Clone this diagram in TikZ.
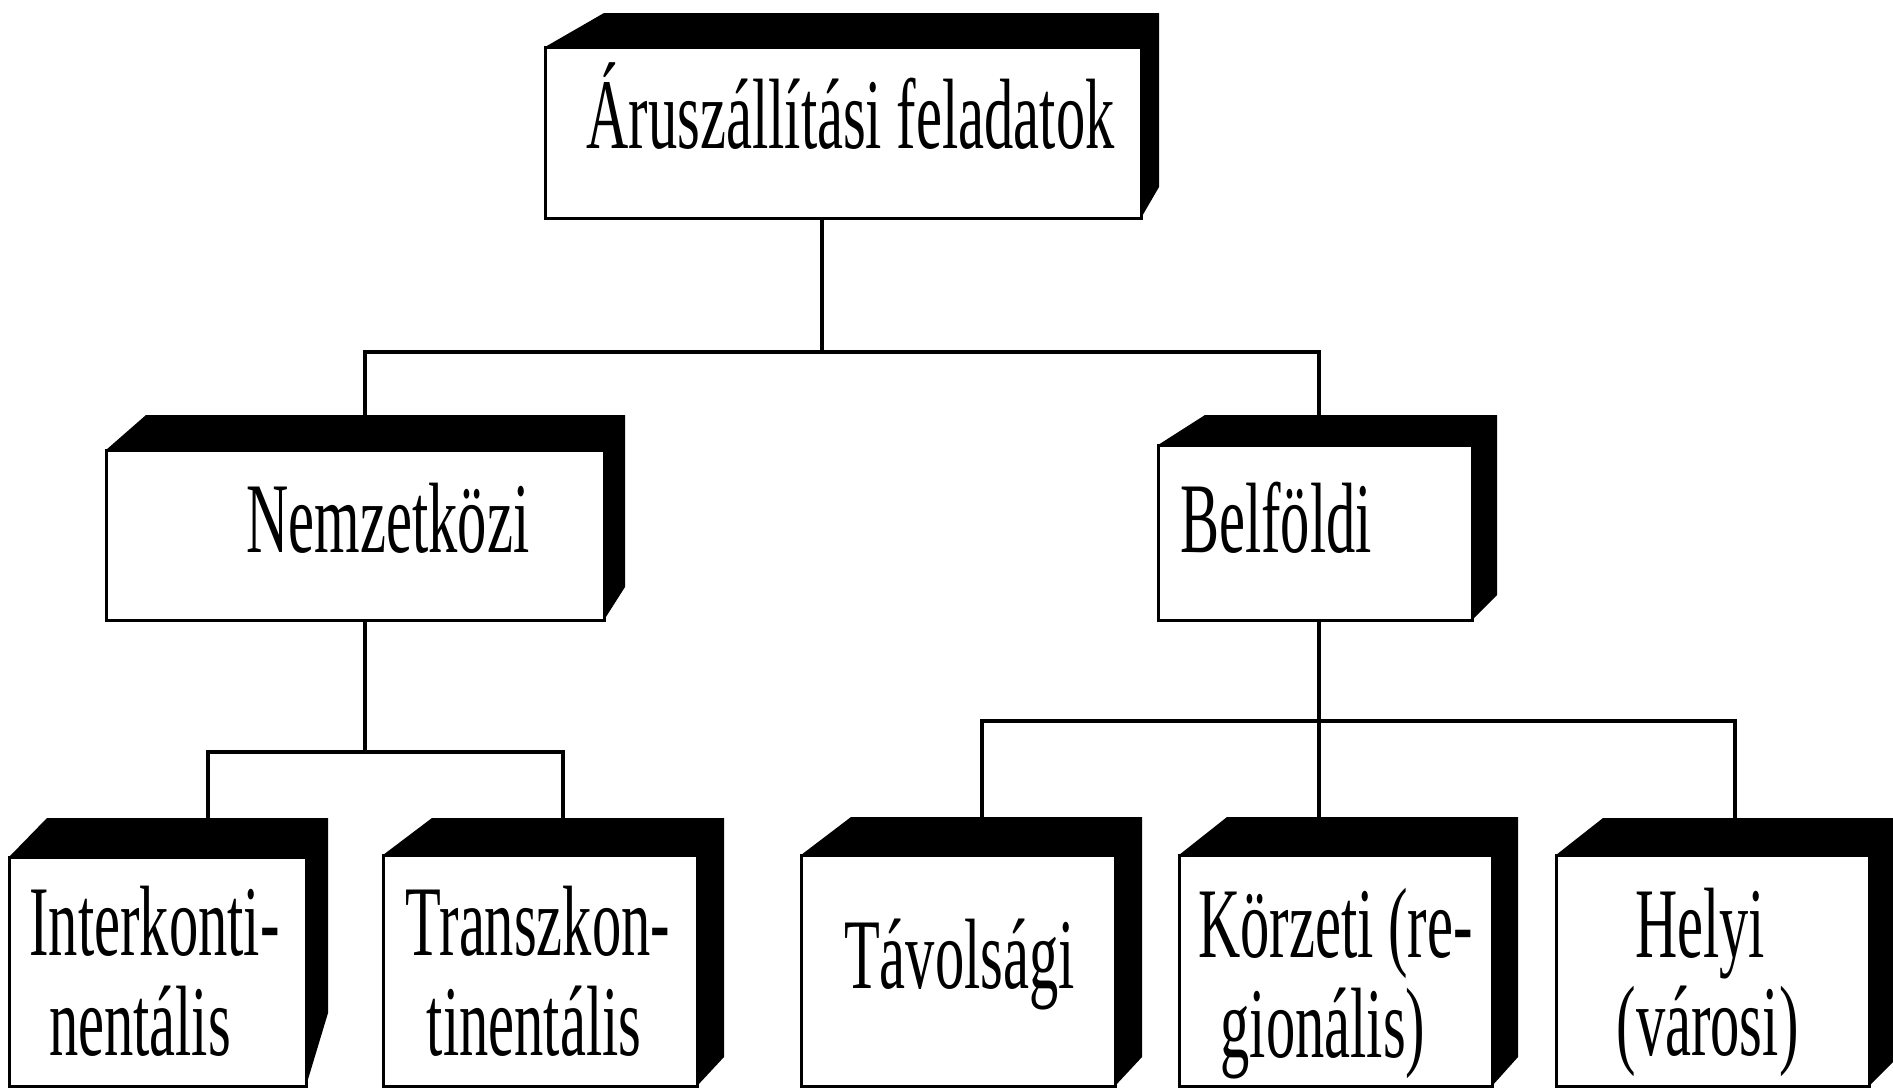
\documentclass[tikz,border=0pt]{standalone}
\usepackage{fontspec}
\setmainfont{Liberation Serif}
\usepackage{graphicx}
\newcommand\sq[1]{\scalebox{0.585}[1]{#1}}
\tikzset{
  front/.style={draw=black, fill=white, line width=3pt, inner sep=0pt, outer sep=0pt, rectangle},
  lbl/.style={inner sep=0pt, anchor=base, font=\fontsize{100}{100}\selectfont},
  conn/.style={draw=black, line width=3.2pt}
}
% #1 name, #2 x1, #3 y1, #4 x2, #5 y2, #6 backleft, #7 backtop, #8 right, #9 bevel
\newcommand\cubebox[9]{%
  \fill[black] (#2,#3) -- (#6,#7) -- (#8,#7) -- (#8,#9) -- (#4,#5) -- (#4,#3) -- cycle;
  \node[front, minimum width={#4-#2}, minimum height={#5-#3}] (#1) at ({(#2+#4)/2},{(#3+#5)/2}) {};
}
\begin{document}
\begin{tikzpicture}[x=1pt,y=-1pt]
\fill[white] (0,0) rectangle (1893,1088);
\useasboundingbox (0,0) rectangle (1893,1088);

% boxes
\cubebox{top}{545}{47}{1141}{218}{604}{13}{1159}{187}
\cubebox{nem}{106}{450}{604}{620}{146}{415}{625}{587}
\cubebox{bel}{1158}{445}{1472}{620}{1205}{415}{1497}{595}
\cubebox{int}{9}{857}{306}{1086}{47}{818}{328}{1013}
\cubebox{tra}{383}{855}{697}{1086}{432}{818}{724}{1057}
\cubebox{tav}{801}{855}{1115}{1086}{851}{817}{1142}{1057}
\cubebox{kor}{1179}{855}{1492}{1086}{1227}{817}{1518}{1057}
\cubebox{hel}{1556}{855}{1869}{1086}{1603}{818}{1893}{1062}

% labels
\node[lbl] (t-top) at (850.5,148) {\sq{Áruszállítási feladatok}};
\node[lbl] (t-nem) at (388,552) {\sq{Nemzetközi}};
\node[lbl] (t-bel) at (1276,552) {\sq{Belföldi}};
\node[lbl] (t-int1) at (154.5,955) {\sq{Interkonti-}};
\node[lbl] (t-int2) at (140,1055) {\sq{nentális}};
\node[lbl] (t-tra1) at (538,955) {\sq{Transzkon-}};
\node[lbl] (t-tra2) at (534,1055) {\sq{tinentális}};
\node[lbl] (t-tav) at (959.5,988) {\sq{Távolsági}};
\node[lbl] (t-kor1) at (1335.5,957) {\sq{Körzeti (re-}};
\node[lbl] (t-kor2) at (1323,1057) {\sq{gionális)}};
\node[lbl] (t-hel1) at (1700,957) {\sq{Helyi}};
\node[lbl] (t-hel2) at (1707.5,1055) {\sq{(városi)}};

% connection points
\coordinate (top-out) at (822,218);
\coordinate (nem-in) at (365,415);
\coordinate (bel-in) at (1319,415);
\coordinate (nem-out) at (365,620);
\coordinate (int-in) at (208,818);
\coordinate (tra-in) at (563,818);
\coordinate (bel-out) at (1319,620);
\coordinate (tav-in) at (982,817);
\coordinate (kor-in) at (1319,817);
\coordinate (hel-in) at (1735,818);

% connectors
\draw[conn] (top-out) -- (top-out |- 0,352) -| (nem-in);
\draw[conn] (top-out |- 0,352) -| (bel-in);
\draw[conn] (nem-out) -- (nem-out |- 0,752) -| (int-in);
\draw[conn] (nem-out |- 0,752) -| (tra-in);
\draw[conn] (bel-out) -- (kor-in);
\draw[conn] (bel-out |- 0,721) -| (tav-in);
\draw[conn] (bel-out |- 0,721) -| (hel-in);
\end{tikzpicture}
\end{document}
